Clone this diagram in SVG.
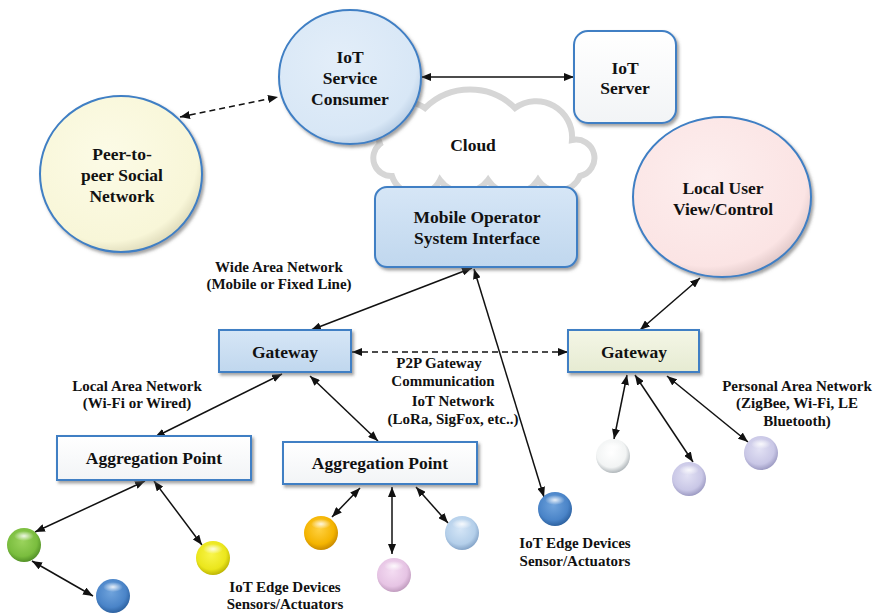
<svg xmlns="http://www.w3.org/2000/svg" width="876" height="613" viewBox="0 0 876 613">
<style>
.t{font-family:'Liberation Serif','Times New Roman',serif;font-weight:bold;fill:#111;text-anchor:middle}
.n{font-size:17.5px}
.s{font-size:15px}
.node{stroke:#3f7fc4;stroke-width:2;filter:url(#sh)}
.c{stroke:#111;stroke-width:1.5;fill:none;marker-start:url(#arr);marker-end:url(#arr)}
.d{stroke-dasharray:6 4}
</style>
<defs>
<filter id="sh" x="-10%" y="-10%" width="125%" height="125%">
<feDropShadow dx="2" dy="2.5" stdDeviation="1.5" flood-color="#555" flood-opacity="0.55"/>
</filter>
<marker id="arr" viewBox="0 0 10 8" refX="10" refY="4" markerWidth="10" markerHeight="8" markerUnits="userSpaceOnUse" orient="auto-start-reverse">
<path d="M0,0 L10,4 L0,8 z" fill="#111"/>
</marker>
<radialGradient id="gBlueC" cx="0.42" cy="0.38" r="0.65"><stop offset="0" stop-color="#e3eef9"/><stop offset="0.85" stop-color="#d8e7f6"/><stop offset="1" stop-color="#b9cde3"/></radialGradient>
<radialGradient id="gCream" cx="0.42" cy="0.38" r="0.65"><stop offset="0" stop-color="#fcfbe6"/><stop offset="0.85" stop-color="#f8f6d8"/><stop offset="1" stop-color="#ddd9b8"/></radialGradient>
<radialGradient id="gPink" cx="0.42" cy="0.38" r="0.65"><stop offset="0" stop-color="#fdeeee"/><stop offset="0.85" stop-color="#fbe4e4"/><stop offset="1" stop-color="#dfc6c6"/></radialGradient>
<linearGradient id="gBox" x1="0" y1="0" x2="0" y2="1"><stop offset="0" stop-color="#d6e6f6"/><stop offset="1" stop-color="#c0d7ee"/></linearGradient>
<linearGradient id="gGreen" x1="0" y1="0" x2="0" y2="1"><stop offset="0" stop-color="#f4f6e6"/><stop offset="1" stop-color="#e6ebd2"/></linearGradient>
<linearGradient id="gWhite" x1="0" y1="0" x2="0" y2="1"><stop offset="0" stop-color="#ffffff"/><stop offset="1" stop-color="#f2f4f6"/></linearGradient>
<radialGradient id="hl" cx="0.5" cy="0.5" r="0.5"><stop offset="0" stop-color="#fff" stop-opacity="0.85"/><stop offset="1" stop-color="#fff" stop-opacity="0"/></radialGradient>
<radialGradient id="sGreen" cx="0.45" cy="0.4" r="0.62"><stop offset="0" stop-color="#9ad35c"/><stop offset="0.7" stop-color="#7abd3e"/><stop offset="1" stop-color="#4e8c24"/></radialGradient>
<radialGradient id="sBlue" cx="0.45" cy="0.4" r="0.62"><stop offset="0" stop-color="#6fa3dc"/><stop offset="0.7" stop-color="#4a84c8"/><stop offset="1" stop-color="#2a5e9c"/></radialGradient>
<radialGradient id="sYellow" cx="0.45" cy="0.4" r="0.62"><stop offset="0" stop-color="#f8f54a"/><stop offset="0.7" stop-color="#ebe61c"/><stop offset="1" stop-color="#b8b000"/></radialGradient>
<radialGradient id="sOrange" cx="0.45" cy="0.4" r="0.62"><stop offset="0" stop-color="#ffd040"/><stop offset="0.7" stop-color="#f4b400"/><stop offset="1" stop-color="#c48600"/></radialGradient>
<radialGradient id="sPink" cx="0.45" cy="0.4" r="0.62"><stop offset="0" stop-color="#f4dcf2"/><stop offset="0.7" stop-color="#e6c4e4"/><stop offset="1" stop-color="#bd98bb"/></radialGradient>
<radialGradient id="sLBlue" cx="0.45" cy="0.4" r="0.62"><stop offset="0" stop-color="#d4e5f6"/><stop offset="0.7" stop-color="#b4cfea"/><stop offset="1" stop-color="#7f9fc4"/></radialGradient>
<radialGradient id="sWhite" cx="0.45" cy="0.4" r="0.62"><stop offset="0" stop-color="#ffffff"/><stop offset="0.7" stop-color="#f2f4f4"/><stop offset="1" stop-color="#a9b0b4"/></radialGradient>
<radialGradient id="sLav" cx="0.45" cy="0.4" r="0.62"><stop offset="0" stop-color="#e2e1f4"/><stop offset="0.7" stop-color="#c9c7e6"/><stop offset="1" stop-color="#9896bf"/></radialGradient>
</defs>
<rect width="876" height="613" fill="#fff"/>

<g id="cloud">
<path d="M392 176 A18 18 0 0 1 380 144 A30 30 0 0 1 425 108 A64 64 0 0 1 515 108 A36 36 0 0 1 572 140 A18 18 0 0 1 580 176 A24 24 0 0 1 538 180 A30 30 0 0 1 488 180 A30 30 0 0 1 440 180 A26 26 0 0 1 392 176 Z" fill="#fff" stroke="#d6d6d6" stroke-width="6"/>
<text class="t n" x="473" y="151">Cloud</text>
</g>

<g id="connectors">
<line class="c" x1="421" y1="77" x2="574" y2="77"/>
<line class="c d" x1="180" y1="117" x2="278" y2="97"/>
<line class="c" x1="472" y1="268" x2="311" y2="330"/>
<line class="c" x1="474" y1="269" x2="544" y2="497" stroke-width="1.3"/>
<line class="c" x1="700" y1="278" x2="640" y2="330"/>
<line class="c d" x1="352" y1="352" x2="568" y2="352"/>
<line class="c" x1="282" y1="374" x2="155" y2="437"/>
<line class="c" x1="310" y1="376" x2="378" y2="441"/>
<line class="c" x1="145" y1="481" x2="35" y2="532"/>
<line class="c" x1="154" y1="481" x2="202" y2="545"/>
<line class="c" x1="32" y1="561" x2="93" y2="596"/>
<line class="c" x1="360" y1="488" x2="332" y2="517"/>
<line class="c" x1="392" y1="487" x2="392" y2="554"/>
<line class="c" x1="416" y1="487" x2="448" y2="523"/>
<line class="c" x1="627" y1="375" x2="614" y2="439"/>
<line class="c" x1="635" y1="375" x2="693" y2="462"/>
<line class="c" x1="667" y1="376" x2="748" y2="442"/>
</g>

<g id="consumer">
<ellipse class="node" cx="350" cy="77" rx="71" ry="67" fill="url(#gBlueC)"/>
<text class="t n" x="350" y="63">IoT</text>
<text class="t n" x="350" y="84">Service</text>
<text class="t n" x="350" y="105">Consumer</text>
</g>

<g id="peer">
<ellipse class="node" cx="121" cy="174" rx="81" ry="78" fill="url(#gCream)"/>
<text class="t n" x="122" y="160">Peer-to-</text>
<text class="t n" x="122" y="181">peer Social</text>
<text class="t n" x="122" y="202">Network</text>
</g>

<g id="server">
<rect class="node" x="574" y="31" width="102" height="92" rx="14" fill="url(#gWhite)"/>
<text class="t n" x="625" y="74">IoT</text>
<text class="t n" x="625" y="94">Server</text>
</g>

<g id="localuser">
<ellipse class="node" cx="722" cy="197" rx="89" ry="80" fill="url(#gPink)"/>
<text class="t n" x="723" y="194">Local User</text>
<text class="t n" x="723" y="215">View/Control</text>
</g>

<g id="mobile">
<rect class="node" x="375" y="187" width="202" height="80" rx="12" fill="url(#gBox)"/>
<text class="t n" x="477" y="223">Mobile Operator</text>
<text class="t n" x="477" y="244">System Interface</text>
</g>

<g id="gateway-left">
<rect class="node" x="219" y="330" width="132" height="42" fill="url(#gBox)"/>
<text class="t n" x="285" y="358">Gateway</text>
</g>

<g id="gateway-right">
<rect class="node" x="568" y="330" width="131" height="42" fill="url(#gGreen)"/>
<text class="t n" x="634" y="358">Gateway</text>
</g>

<g id="agg-left">
<rect class="node" x="57" y="436" width="194" height="44" fill="url(#gWhite)"/>
<text class="t n" x="154" y="464">Aggregation Point</text>
</g>

<g id="agg-mid">
<rect class="node" x="283" y="442" width="194" height="42" fill="url(#gWhite)"/>
<text class="t n" x="380" y="469">Aggregation Point</text>
</g>

<g id="dev-green"><circle cx="24" cy="545" r="17" fill="url(#sGreen)"/><ellipse cx="24" cy="536" rx="10" ry="5" fill="url(#hl)"/></g>
<g id="dev-blue"><circle cx="113" cy="596" r="17" fill="url(#sBlue)"/><ellipse cx="113" cy="587" rx="10" ry="5" fill="url(#hl)"/></g>
<g id="dev-yellow"><circle cx="213" cy="558" r="17" fill="url(#sYellow)"/><ellipse cx="213" cy="549" rx="10" ry="5" fill="url(#hl)"/></g>
<g id="dev-orange"><circle cx="321" cy="533" r="17" fill="url(#sOrange)"/><ellipse cx="321" cy="524" rx="10" ry="5" fill="url(#hl)"/></g>
<g id="dev-pink"><circle cx="394" cy="575" r="17" fill="url(#sPink)"/><ellipse cx="394" cy="566" rx="10" ry="5" fill="url(#hl)"/></g>
<g id="dev-lightblue"><circle cx="462" cy="533" r="17" fill="url(#sLBlue)"/><ellipse cx="462" cy="524" rx="10" ry="5" fill="url(#hl)"/></g>
<g id="dev-darkblue"><circle cx="555" cy="509" r="17" fill="url(#sBlue)"/><ellipse cx="555" cy="500" rx="10" ry="5" fill="url(#hl)"/></g>
<g id="dev-white"><circle cx="613" cy="456" r="17" fill="url(#sWhite)"/><ellipse cx="613" cy="447" rx="10" ry="5" fill="url(#hl)"/></g>
<g id="dev-lav1"><circle cx="689" cy="479" r="17" fill="url(#sLav)"/><ellipse cx="689" cy="470" rx="10" ry="5" fill="url(#hl)"/></g>
<g id="dev-lav2"><circle cx="761" cy="453" r="17" fill="url(#sLav)"/><ellipse cx="761" cy="444" rx="10" ry="5" fill="url(#hl)"/></g>

<g id="labels">
<text class="t s" x="279" y="272">Wide Area Network</text>
<text class="t s" x="279" y="289">(Mobile or Fixed Line)</text>
<text class="t s" x="137" y="391">Local Area Network</text>
<text class="t s" x="137" y="408">(Wi-Fi or Wired)</text>
<text class="t s" x="439" y="368">P2P Gateway</text>
<text class="t s" x="443" y="386">Communication</text>
<text class="t s" x="453" y="406">IoT Network</text>
<text class="t s" x="453" y="424">(LoRa, SigFox, etc..)</text>
<text class="t s" x="797" y="391">Personal Area Network</text>
<text class="t s" x="797" y="408">(ZigBee, Wi-Fi, LE</text>
<text class="t s" x="797" y="426">Bluetooth)</text>
<text class="t s" x="285" y="592">IoT Edge Devices</text>
<text class="t s" x="285" y="609">Sensors/Actuators</text>
<text class="t s" x="575" y="548">IoT Edge Devices</text>
<text class="t s" x="575" y="566">Sensor/Actuators</text>
</g>
</svg>
